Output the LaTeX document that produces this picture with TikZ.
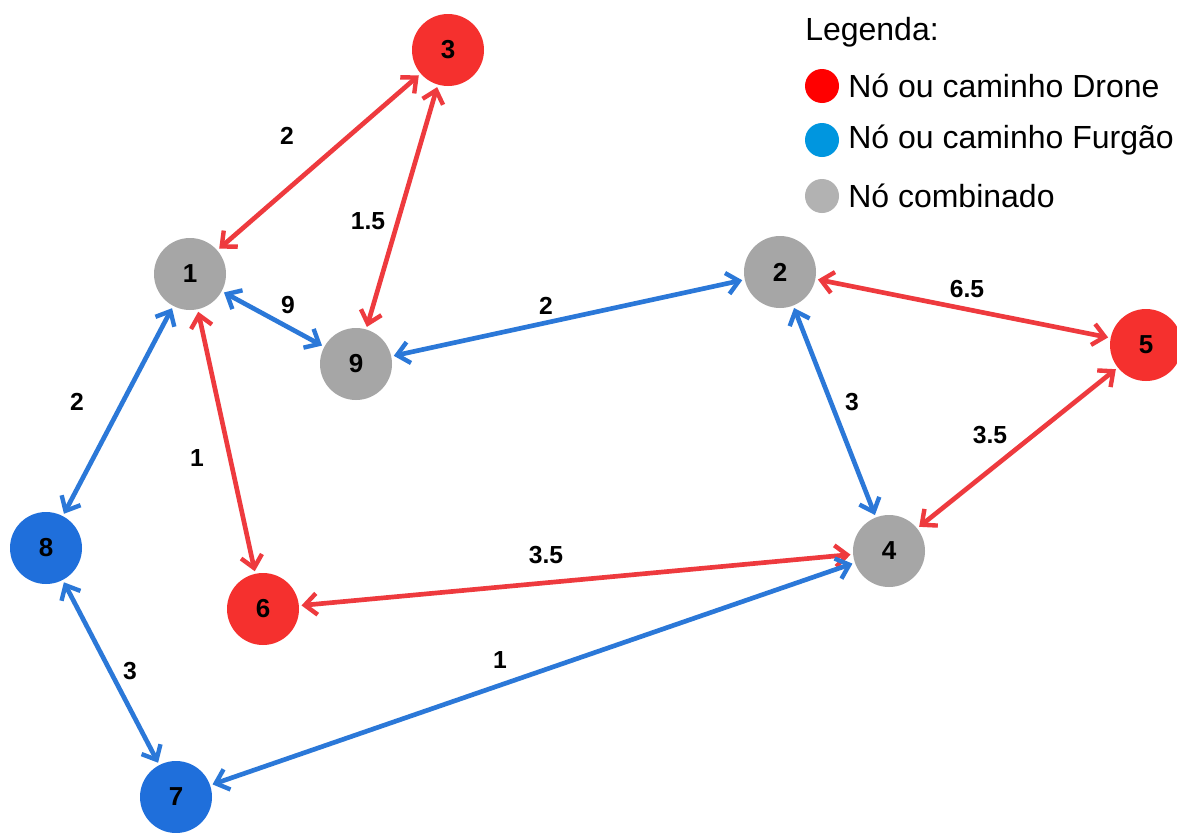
\documentclass[tikz,border=0pt]{standalone}
\usepackage{fontspec}
\setmainfont{Liberation Sans}
\usetikzlibrary{arrows.meta}
\definecolor{ngray}{HTML}{A6A6A6}
\definecolor{nred}{HTML}{F5302E}
\definecolor{nblue}{HTML}{1F6FDB}
\definecolor{ered}{HTML}{EE3A3E}
\definecolor{eblue}{HTML}{2B78D8}
\definecolor{lred}{HTML}{FF0000}
\definecolor{lblue}{HTML}{0096DF}
\definecolor{lgray}{HTML}{B2B2B2}
\begin{document}
\begin{tikzpicture}[x=0.75pt,y=-0.75pt,
  vert/.style={circle,minimum size=54pt,inner sep=0pt,outer sep=2pt,font=\fontsize{19.5}{19.5}\selectfont\bfseries},
  graynode/.style={vert,fill=ngray},
  rednode/.style={vert,fill=nred},
  bluenode/.style={vert,fill=nblue},
  edge/.style={line width=3.5pt,{Straight Barb[length=9pt,width=16pt,line width=3.3pt]}-{Straight Barb[length=9pt,width=16pt,line width=3.3pt]}},
  redge/.style={edge,ered},
  bedge/.style={edge,eblue},
  elab/.style={font=\fontsize{18.5}{18.5}\selectfont\bfseries},
  legtext/.style={anchor=west,font=\fontsize{24}{24}\selectfont,inner sep=0pt},
  legdot/.style={circle,minimum size=25.5pt,inner sep=0pt}]
\useasboundingbox (0,0) rectangle (1177,832);
\fill[white] (0,0) rectangle (1177,832);
% nodes
\node[rednode]  (n3) at (448,50)  {3};
\node[graynode] (n1) at (190,274) {1};
\node[graynode] (n2) at (780,272) {2};
\node[graynode] (n9) at (356,364) {9};
\node[rednode]  (n5) at (1146,345) {5};
\node[bluenode] (n8) at (46,548)  {8};
\node[rednode]  (n6) at (263,609) {6};
\node[graynode] (n4) at (889,551) {4};
\node[bluenode] (n7) at (176,797) {7};
% edges
\draw[redge] (n3) -- (n1);
\draw[redge] (n3) -- (n9);
\draw[bedge] (n1) -- (n9);
\draw[bedge] (n9) -- (n2);
\draw[redge] (n2) -- (n5);
\draw[bedge] (n2) -- (n4);
\draw[redge] (n5) -- (n4);
\draw[bedge] (n1) -- (n8);
\draw[redge] (n1) -- (n6);
\draw[redge] (n6) -- (n4);
\draw[bedge] (n7) -- (n4);
\draw[bedge] (n8) -- (n7);
% labels
\node[elab] (l31) at (287,136) {2};
\node[elab] (l39) at (368,221) {1.5};
\node[elab] (l19) at (288,305) {9};
\node[elab] (l92) at (546,306) {2};
\node[elab] (l25) at (967,289) {6.5};
\node[elab] (l24) at (852,402) {3};
\node[elab] (l54) at (990,435) {3.5};
\node[elab] (l18) at (77,402) {2};
\node[elab] (l16) at (197,458) {1};
\node[elab] (l64) at (546,555) {3.5};
\node[elab] (l74) at (500,660) {1};
\node[elab] (l87) at (130,671) {3};
% legend
\node[legtext] (lg) at (805,32) {Legenda:};
\node[legdot,fill=lred]  (d1) at (822,86) {};
\node[legdot,fill=lblue] (d2) at (822,140) {};
\node[legdot,fill=lgray] (d3) at (822,196) {};
\node[legtext] (t1) at (848,86) {Nó ou caminho Drone};
\node[legtext] (t2) at (848,140) {Nó ou caminho Furgão};
\node[legtext] (t3) at (848,196) {Nó combinado};
\end{tikzpicture}
\end{document}
